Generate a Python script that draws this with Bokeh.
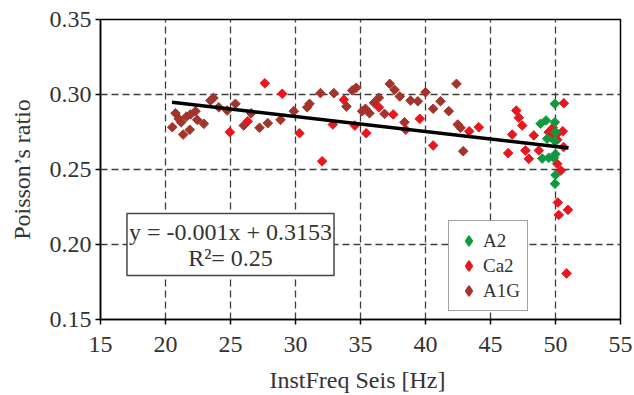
import numpy as np
from bokeh.plotting import figure
from bokeh.models import FixedTicker, NumeralTickFormatter, Legend, LegendItem, Label, Range1d
from bokeh.embed import file_html
from bokeh.resources import INLINE

# ---- data ----
a1g_x = [20.52, 20.77, 21.02, 21.21, 21.36, 21.62, 21.92, 21.87, 22.31, 22.44, 22.95, 23.46, 23.69,
         24.10, 24.75, 25.38, 26.02, 26.59, 27.23, 27.87, 28.85, 29.87, 30.90, 31.08, 31.92, 32.95,
         33.92, 34.36, 34.67, 35.13, 35.38, 35.69, 36.04, 36.41, 36.85, 37.25, 37.62, 38.02, 38.38,
         38.85, 39.41, 40.00, 40.59, 41.15, 41.79, 42.38, 42.48, 42.69, 42.90]
a1g_y = [0.2782, 0.2875, 0.2838, 0.2815, 0.2733, 0.2853, 0.2867, 0.2765, 0.2889, 0.2831, 0.2805,
         0.2960, 0.2977, 0.2915, 0.2893, 0.2938, 0.2793, 0.2875, 0.2778, 0.2809, 0.2831, 0.2889,
         0.2915, 0.2938, 0.3009, 0.3009, 0.2920, 0.3027, 0.3045, 0.2889, 0.2905, 0.2875, 0.2945,
         0.2978, 0.2871, 0.3071, 0.3031, 0.2987, 0.2815, 0.2960, 0.2955, 0.3015, 0.2905, 0.2955,
         0.2889, 0.3071, 0.2800, 0.2778, 0.2622]

ca2_x = [24.95, 26.33, 27.64, 28.98, 30.31, 32.05, 32.87, 33.72, 34.56, 35.44, 36.41, 37.52, 38.48,
         39.56, 40.59, 43.36, 44.10, 46.36, 46.67, 46.98, 47.18, 47.44, 47.69, 47.95, 48.33, 48.72,
         49.48, 49.79, 49.87, 50.13, 50.56, 50.64, 50.13, 50.62, 50.13, 50.42, 50.18, 50.96, 50.25,
         50.85]
ca2_y = [0.2749, 0.2822, 0.3075, 0.3005, 0.2742, 0.2555, 0.2800, 0.2965, 0.2793, 0.2742, 0.2915,
         0.2867, 0.2765, 0.2838, 0.2660, 0.2755, 0.2782, 0.2609, 0.2733, 0.2893, 0.2845, 0.2793,
         0.2627, 0.2571, 0.2727, 0.2627, 0.2749, 0.2778, 0.2727, 0.2738, 0.2755, 0.2942, 0.2698,
         0.2650, 0.2538, 0.2493, 0.2280, 0.2231, 0.2197, 0.1807]

a2_x = [48.85, 49.27, 49.95, 49.95, 50.00, 49.36, 48.98, 49.48, 49.87, 50.00, 50.00, 49.96, 49.95]
a2_y = [0.2805, 0.2827, 0.2938, 0.2815, 0.2749, 0.2705, 0.2573, 0.2578, 0.2578, 0.2603, 0.2463,
        0.2405, 0.2690]

trend_slope = -0.001
trend_intercept = 0.3153
trend_x = [20.5, 51.0]
equation_text = "y = -0.001x + 0.3153\nR\u00b2= 0.25"

x_ticks = [15, 20, 25, 30, 35, 40, 45, 50, 55]
y_ticks = [0.15, 0.20, 0.25, 0.30, 0.35]
series_names = ["A2", "Ca2", "A1G"]
series_colors = ["#119a3d", "#e8161e", "#a3342c"]

FONT = "Liberation Serif"
TXT = "#333333"

p = figure(width=634, height=395, output_backend="svg", toolbar_location=None,
           x_range=Range1d(15, 55), y_range=Range1d(0.15, 0.35),
           min_border_left=100, min_border_right=14, min_border_top=19, min_border_bottom=76,
           background_fill_color="white", border_fill_color="white")
p.outline_line_color = "black"
p.outline_line_width = 1.5

for ax, ticks in ((p.xaxis[0], x_ticks), (p.yaxis[0], y_ticks)):
    ax.ticker = FixedTicker(ticks=ticks)
    ax.axis_line_color = "black"
    ax.axis_line_width = 1.5
    ax.major_tick_line_color = "black"
    ax.major_tick_line_width = 1.5
    ax.major_tick_out = 5
    ax.major_tick_in = 0
    ax.minor_tick_line_color = None
    ax.major_label_text_font = FONT
    ax.major_label_text_font_size = "24px"
    ax.major_label_text_color = TXT
    ax.axis_label_text_font = FONT
    ax.axis_label_text_font_size = "24px"
    ax.axis_label_text_font_style = "normal"
    ax.axis_label_text_color = TXT

p.yaxis.formatter = NumeralTickFormatter(format="0.00")
p.xaxis.major_label_standoff = 12
p.yaxis.major_label_standoff = 4
p.xaxis.axis_label = "InstFreq  Seis [Hz]"
p.yaxis.axis_label = "Poisson\u2019s ratio"
p.xaxis.axis_label_standoff = 12
p.yaxis.axis_label_standoff = 12

p.xgrid.ticker = FixedTicker(ticks=x_ticks[1:-1])
p.ygrid.ticker = FixedTicker(ticks=y_ticks[1:-1])
for g in (p.xgrid, p.ygrid):
    g.grid_line_color = "#3c3c3c"
    g.grid_line_width = 1.3
    g.grid_line_dash = "7 4"

mk = dict(marker="square", angle=np.pi / 4, size=6.8)
r_a1g = p.scatter(a1g_x, a1g_y, fill_color=series_colors[2], line_color=series_colors[2], **mk)
r_ca2 = p.scatter(ca2_x, ca2_y, fill_color=series_colors[1], line_color=series_colors[1], **mk)
r_a2 = p.scatter(a2_x, a2_y, fill_color=series_colors[0], line_color=series_colors[0], **mk)

trend_y = [trend_slope * xv + trend_intercept for xv in trend_x]
p.line(trend_x, trend_y, line_color="black", line_width=3.5)

# legend swatches: diamond markers (legend draws markers without rotation); no visible data
leg_renderers = [p.scatter([np.nan], [np.nan], marker="diamond", fill_color=c, line_color=c,
                           line_width=1.6)
                 for c in series_colors]

legend = Legend(items=[LegendItem(label=n, renderers=[r]) for n, r in zip(series_names, leg_renderers)],
                location=(348, 8), margin=0, padding=7, spacing=0,
                glyph_width=25, glyph_height=25, label_height=25, label_standoff=2,
                label_text_font=FONT, label_text_font_size="19px", label_text_color=TXT,
                border_line_color="#444444", border_line_width=1.5,
                background_fill_color="white", background_fill_alpha=1.0)
p.add_layout(legend)

eq = Label(x=25, y=0.20, text=equation_text, text_align="center", text_baseline="middle",
           text_font=FONT, text_font_size="24px", text_color=TXT, text_line_height=1.0,
           background_fill_color="white", border_line_color="#444444", border_line_width=1.5,
           padding=(2, 5))
p.add_layout(eq)

open("out.html", "w").write(file_html(p, INLINE))
